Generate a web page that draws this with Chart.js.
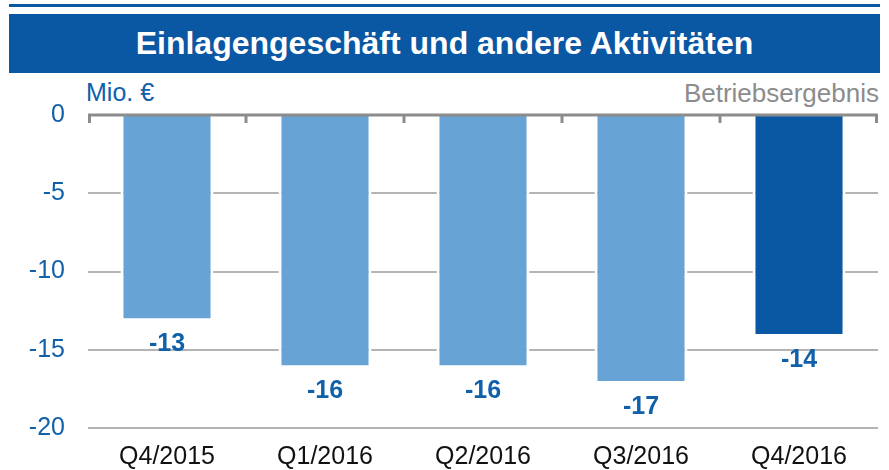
<!DOCTYPE html>
<html>
<head>
<meta charset="utf-8">
<script src="https://cdn.jsdelivr.net/npm/chart.js@4/dist/chart.umd.min.js"></script>
<style>
  html, body { margin:0; padding:0; background:#fff; }
  body { width:889px; height:470px; position:relative; overflow:hidden; font-family:"Liberation Sans", Arial, sans-serif; }
  #topline { position:absolute; left:9px; top:4px; width:871px; height:3px; background:#0a57a3; }
  #titlebox { position:absolute; left:9px; top:14px; width:871px; height:59px; background:#0a57a3; color:#fff;
    font-weight:bold; font-size:32px; text-align:center; line-height:59px; }
  #unit { position:absolute; left:86px; top:78px; font-size:25px; color:#1160aa; }
  #right { position:absolute; right:10px; top:78px; font-size:26px; color:#8c8c8c; }
  #wrap { position:absolute; left:0; top:0; width:889px; height:470px; }
</style>
</head>
<body>
<div id="topline"></div>
<div id="titlebox">Einlagengeschäft und andere Aktivitäten</div>
<div id="unit">Mio. €</div>
<div id="right">Betriebsergebnis</div>
<div id="wrap"><canvas id="c" width="889" height="470"></canvas></div>
<script>
const categories = ["Q4/2015", "Q1/2016", "Q2/2016", "Q3/2016", "Q4/2016"];
const values = [-13, -16, -16, -17, -14];
const yTicks = [0, -5, -10, -15, -20];
const barColors = ["#68a3d5", "#68a3d5", "#68a3d5", "#68a3d5", "#0a57a3"];

const zeroAxisPlugin = {
  id: 'zeroAxis',
  afterDatasetsDraw(chart) {
    const ctx = chart.ctx;
    const x = chart.scales.x, y = chart.scales.y;
    const y0 = y.getPixelForValue(0);
    ctx.save();
    ctx.strokeStyle = '#8c8c8c';
    ctx.lineWidth = 3;
    ctx.beginPath();
    ctx.moveTo(x.left, y0);
    ctx.lineTo(x.right, y0);
    ctx.stroke();
    const n = categories.length;
    for (let i = 0; i <= n; i++) {
      let px;
      if (i === 0) px = x.left + 1.5;
      else if (i === n) px = x.right - 1.5;
      else px = (x.getPixelForValue(i - 1) + x.getPixelForValue(i)) / 2;
      ctx.beginPath();
      ctx.moveTo(px, y0);
      ctx.lineTo(px, y0 + 8);
      ctx.stroke();
    }
    // data labels
    const meta = chart.getDatasetMeta(0);
    ctx.fillStyle = '#1160aa';
    ctx.font = 'bold 25px "Liberation Sans", Arial, sans-serif';
    ctx.textAlign = 'center';
    ctx.textBaseline = 'middle';
    meta.data.forEach((bar, i) => {
      ctx.fillText(String(values[i]), bar.x, bar.y + 26);
    });
    ctx.restore();
  }
};

new Chart(document.getElementById('c'), {
  type: 'bar',
  data: {
    labels: categories,
    datasets: [{
      data: values,
      backgroundColor: barColors,
      borderColor: '#ffffff',
      borderWidth: { left: 3, right: 3, top: 0, bottom: 0 },
      borderSkipped: false,
      barPercentage: 0.589,
      categoryPercentage: 1.0
    }]
  },
  options: {
    responsive: false,
    animation: false,
    devicePixelRatio: 1,
    layout: { padding: { left: 0, right: 11, top: 115, bottom: 0 } },
    plugins: { legend: { display: false }, tooltip: { enabled: false }, title: { display: false } },
    scales: {
      x: {
        grid: { display: false },
        border: { display: false },
        ticks: { color: '#111111', font: { size: 25, family: '"Liberation Sans", Arial, sans-serif' }, padding: 6 },
        afterFit(scale) { scale.height = 42; }
      },
      y: {
        min: -20, max: 0,
        afterBuildTicks(scale) { scale.ticks = yTicks.map(v => ({ value: v })); },
        grid: {
          color: ctx => (ctx.tick && ctx.tick.value === 0) ? 'rgba(0,0,0,0)' : '#b4b4b4',
          lineWidth: 2,
          drawTicks: false
        },
        border: { display: false },
        ticks: { color: '#1160aa', font: { size: 25, family: '"Liberation Sans", Arial, sans-serif' }, padding: 23 },
        afterFit(scale) { scale.width = 88; }
      }
    }
  },
  plugins: [zeroAxisPlugin]
});
</script>
</body>
</html>
